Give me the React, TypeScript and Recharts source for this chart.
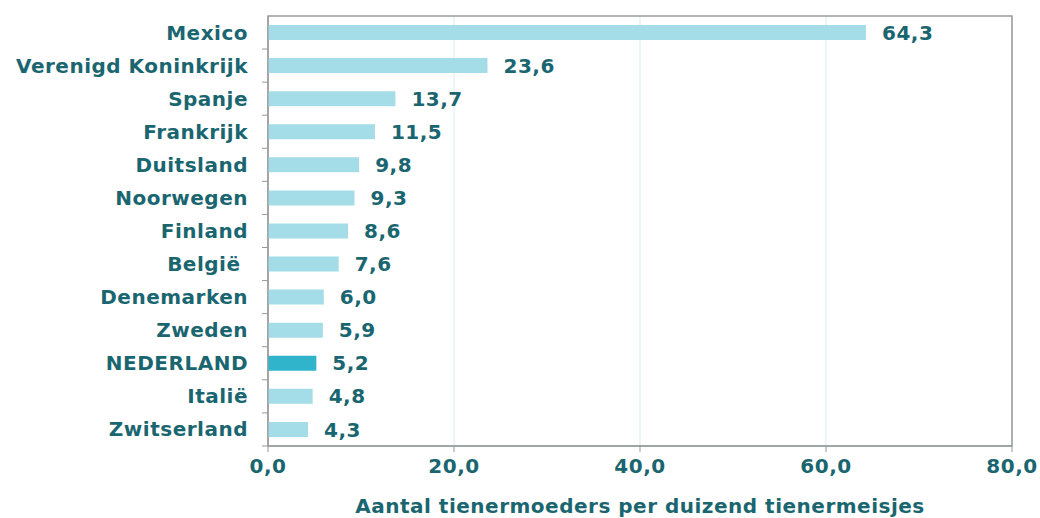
import { Bar, BarChart, CartesianGrid, Cell, LabelList, ReferenceArea, XAxis, YAxis } from "recharts";

const countries = [
  "Mexico",
  "Verenigd Koninkrijk",
  "Spanje",
  "Frankrijk",
  "Duitsland",
  "Noorwegen",
  "Finland",
  "België\u00a0",
  "Denemarken",
  "Zweden",
  "NEDERLAND",
  "Italië",
  "Zwitserland",
];
const values = [64.3, 23.6, 13.7, 11.5, 9.8, 9.3, 8.6, 7.6, 6.0, 5.9, 5.2, 4.8, 4.3];
const xTicks = [0, 20, 40, 60, 80];
const highlight = "NEDERLAND";

const data = countries.map((name, i) => ({ name, value: values[i] }));

const TEXT = "#1a6670";
const FONT = "'DejaVu Sans', Verdana, sans-serif";
const FS = 20;
const LS = 0.5;
const comma = (v: number) => v.toFixed(1).replace(".", ",");

function CountryTick(props: any) {
  const { x, y, payload } = props;
  return (
    <g>
      <line x1={x + 14} x2={x + 20} y1={y + 16.5} y2={y + 16.5} stroke="#999" />
      <text
        x={x}
        y={y}
        dy={7}
        textAnchor="end"
        fill={TEXT}
        fontSize={FS}
        fontWeight="bold"
        fontFamily={FONT}
        letterSpacing={LS}
      >
        {payload.value}
      </text>
    </g>
  );
}

export default function App() {
  return (
    <div style={{ position: "absolute", left: 0, top: 0, background: "#fff" }}>
      <BarChart
        width={1040}
        height={518}
        data={data}
        layout="vertical"
        margin={{ top: 16, right: 28, left: 0, bottom: 0 }}
        barCategoryGap={0}
      >
        <CartesianGrid horizontal={false} stroke="#d5eef4" />
        <ReferenceArea x1={0} x2={80} fill="none" stroke="#9a9a9a" strokeWidth={1.5} />
        <XAxis
          type="number"
          domain={[0, 80]}
          ticks={xTicks}
          tickFormatter={comma}
          stroke="#8a9a9a"
          tickSize={6}
          tickMargin={7}
          height={72}
          tick={{ fill: TEXT, fontSize: FS, fontWeight: "bold", fontFamily: FONT, letterSpacing: LS }}
          label={{
            value: "Aantal tienermoeders per duizend tienermeisjes",
            position: "insideBottom",
            offset: 5,
            fill: TEXT,
            fontSize: FS,
            fontWeight: "bold",
            fontFamily: FONT,
            letterSpacing: LS,
          }}
        />
        <YAxis
          type="category"
          dataKey="name"
          width={268}
          stroke="#999"
          tickLine={false}
          tick={<CountryTick />}
          tickMargin={14}
          interval={0}
        />
        <Bar dataKey="value" barSize={15} isAnimationActive={false}>
          {data.map((d) => (
            <Cell key={d.name} fill={d.name === highlight ? "#30b4cc" : "#a4dde8"} />
          ))}
          <LabelList
            dataKey="value"
            position="right"
            offset={16}
            formatter={(v: any) => comma(Number(v))}
            fill={TEXT}
            fontSize={FS}
            fontWeight="bold"
            fontFamily={FONT}
            letterSpacing={LS}
          />
        </Bar>
      </BarChart>
    </div>
  );
}
